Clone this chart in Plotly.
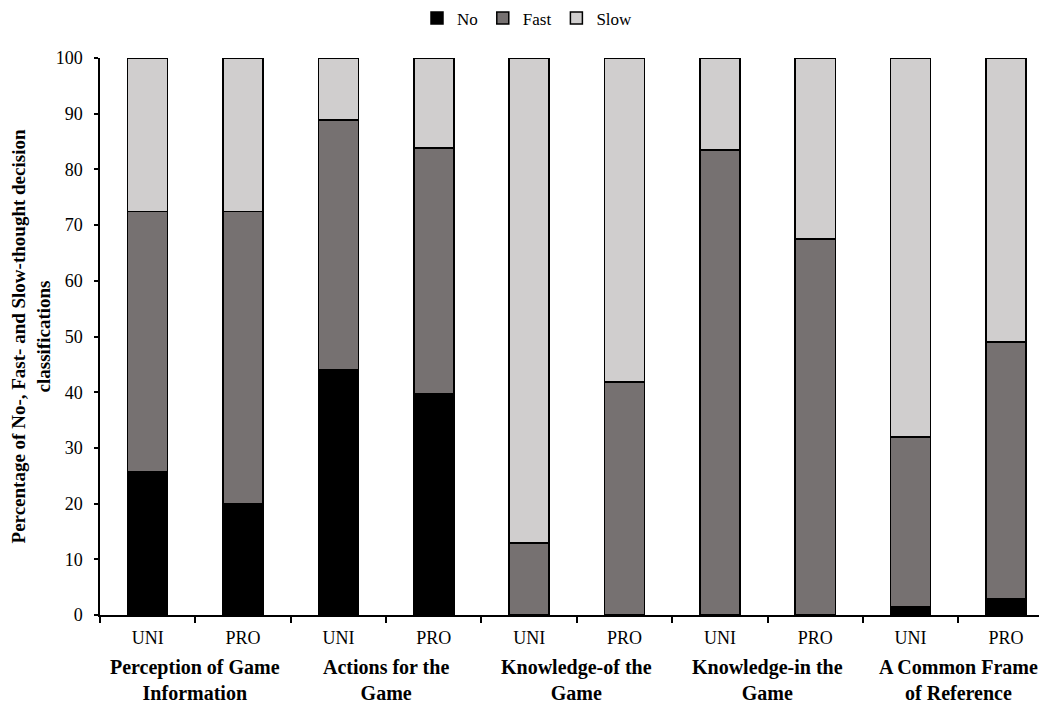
import plotly.graph_objects as go

groups = ["Perception of Game<br>Information", "Actions for the<br>Game",
          "Knowledge-of the<br>Game", "Knowledge-in the<br>Game",
          "A Common Frame<br>of Reference"]
levels = ["UNI", "PRO", "UNI", "PRO", "UNI", "PRO", "UNI", "PRO", "UNI", "PRO"]
no_vals = [25.7, 19.9, 44.0, 39.7, 0.0, 0.0, 0.0, 0.0, 1.4, 2.9]
fast_vals = [46.7, 52.5, 44.9, 44.1, 12.9, 41.8, 83.5, 67.5, 30.6, 46.1]
slow_vals = [27.6, 27.6, 11.1, 16.2, 87.1, 58.2, 16.5, 32.5, 68.0, 51.0]
y_ticks = [0, 10, 20, 30, 40, 50, 60, 70, 80, 90, 100]

x = list(range(len(levels)))
FONT = "Liberation Serif, Times New Roman, serif"

fig = go.Figure()
for name, vals, col in [("No", no_vals, "#000000"),
                        ("Fast", fast_vals, "#767171"),
                        ("Slow", slow_vals, "#d0cece")]:
    fig.add_trace(go.Bar(x=x, y=vals, name=name, width=0.42,
                         marker=dict(color=col, line=dict(color="#000000", width=1.5))))

for i, g in enumerate(groups):
    fig.add_annotation(x=2 * i + 0.5, y=-0.07, xref="x", yref="paper",
                       text="<b>" + g + "</b>", showarrow=False,
                       yanchor="top", xanchor="center",
                       font=dict(family=FONT, size=20, color="#000000"))

fig.update_layout(
    barmode="stack",
    width=1039, height=697,
    margin=dict(l=92, r=0, t=50, b=90),
    plot_bgcolor="white", paper_bgcolor="white",
    font=dict(family=FONT, size=17, color="#000000"),
    showlegend=True,
    legend=dict(orientation="h", xref="container", x=0.5, xanchor="center",
                yref="container", y=0.985, yanchor="middle",
                font=dict(family=FONT, size=17), itemwidth=30,
                traceorder="normal"),
    xaxis=dict(range=[-0.5, 9.43], tickvals=x, ticktext=levels,
               showline=True, linecolor="#000000", linewidth=1.5,
               ticks="", showgrid=False, zeroline=False,
               tickfont=dict(family=FONT, size=18),
               minor=dict(tickvals=[i - 0.5 for i in range(11)], ticks="outside",
                          ticklen=6, tickwidth=1.5, tickcolor="#000000", showgrid=False),
               ticklabelstandoff=6),
    yaxis=dict(range=[0, 100], tickvals=y_ticks, showline=True,
               linecolor="#000000", linewidth=1.5, ticks="outside",
               ticklen=4, tickwidth=1.5, tickcolor="#000000",
               showgrid=False, zeroline=False,
               tickfont=dict(family=FONT, size=18),
               ticklabelstandoff=8,
               title=dict(text="<b>Percentage of No-, Fast- and Slow-thought decision<br>classifications</b>",
                          font=dict(family=FONT, size=19), standoff=8)),
)

fig.write_html("out.html")
